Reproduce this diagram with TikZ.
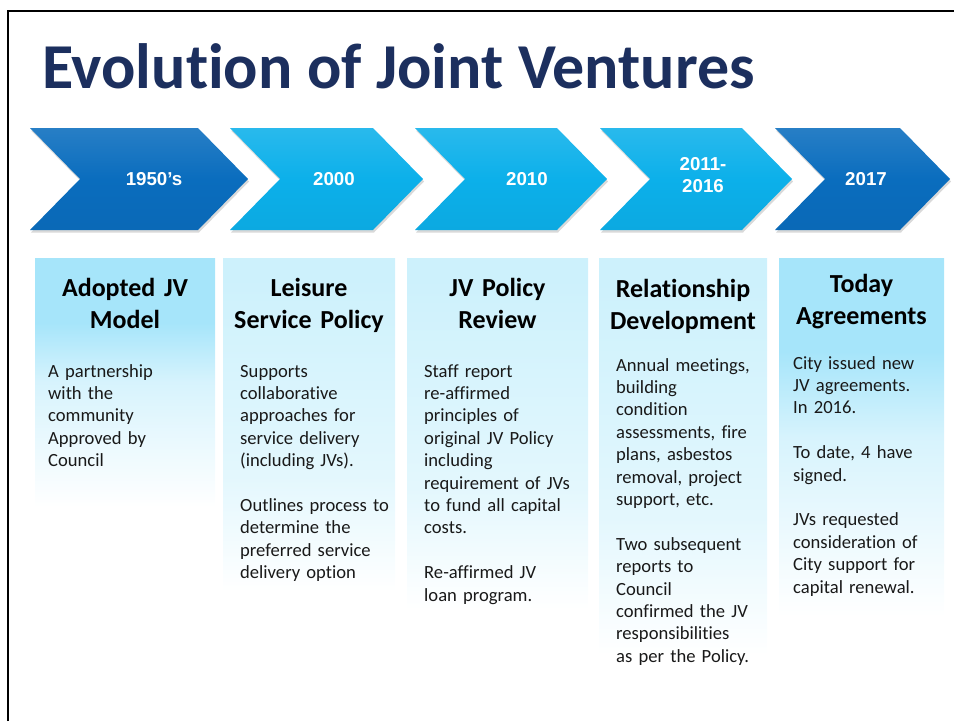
\documentclass[tikz,border=0pt]{standalone}
\usepackage{fontspec}
\setmainfont{Carlito}[Ligatures=NoCommon]
\newfontfamily\yearfont{Liberation Sans}
\usepackage{xcolor}
\usepackage{tikz}
\usetikzlibrary{positioning, shadows}

\definecolor{titleblue}{HTML}{1C2F5E}
\definecolor{chevdeep}{HTML}{0A6DBE}
\definecolor{chevpale}{HTML}{0CB0EA}
\definecolor{carddeep}{HTML}{A6E5FA}
\definecolor{cardpale}{HTML}{CDF1FC}

% card backgrounds fade to white towards the bottom
\pgfdeclareverticalshading{deepfade}{100bp}{color(0bp)=(white); color(25bp)=(white); color(50bp)=(carddeep!45!white); color(62bp)=(carddeep); color(100bp)=(carddeep)}
\pgfdeclareverticalshading{palefade}{100bp}{color(0bp)=(white); color(25bp)=(white); color(42bp)=(cardpale!55!white); color(72bp)=(cardpale); color(100bp)=(cardpale)}

\begin{document}
\begin{tikzpicture}[x=1pt, y=-1pt,
    chev/.style={top color=#1!88!white, bottom color=#1!96!black, middle color=#1,
        drop shadow={shadow xshift=1pt, shadow yshift=-2.5pt, opacity=0.3}},
    yearlabel/.style={font=\yearfont\bfseries\fontsize{18.7}{22.4}\selectfont,
        text=white, align=center, inner sep=0pt},
    card/.style={shading=#1, draw=none, inner sep=0pt, outer sep=0pt, anchor=north west},
    head/.style={font=\bfseries\fontsize{26}{32}\selectfont, text width=180pt,
        align=center, inner sep=0pt, anchor=base},
    body/.style={font=\fontsize{18.6}{22.4}\selectfont, text=black!90, text width=175pt,
        align=left, inner sep=0pt, anchor=base west}]

    \useasboundingbox (0,0) rectangle (954,721);

    % Frame
    \draw[line width=2.6pt] (8,721) -- (8,11) -- (954,11);

    % Title
    \node[font=\bfseries\fontsize{64}{70}\selectfont, text=titleblue, inner sep=0pt,
        anchor=base west] (title) at (42,88) {Evolution of Joint Ventures};

    % Timeline chevrons: back x / tip x / colour
    \foreach \l/\r/\c in {30/248/chevdeep, 230/423/chevpale, 415/607/chevpale,
                          600/792/chevpale, 775/950/chevdeep}
        \path[chev=\c] (\l,128) -- (\r-50,128) -- (\r,179) -- (\r-50,230)
            -- (\l,230) -- (\l+50,179) -- cycle;

    % Years
    \node[yearlabel] (y1) at (154,179) {1950’s};
    \node[yearlabel] (y2) at (334,179) {2000};
    \node[yearlabel] (y3) at (527,179) {2010};
    \node[yearlabel] (y4) at (703,175) {2011-\\2016};
    \node[yearlabel] (y5) at (866,179) {2017};

    % Cards
    \node[card=deepfade, minimum width=180pt, minimum height=249pt] (b1) at (35,258) {};
    \node[card=palefade, minimum width=172pt, minimum height=334pt] (b2) at (223,258) {};
    \node[card=palefade, minimum width=181pt, minimum height=352pt] (b3) at (407,258) {};
    \node[card=palefade, minimum width=168pt, minimum height=397pt] (b4) at (599,258) {};
    \node[card=deepfade, minimum width=165pt, minimum height=359pt] (b5) at (779,258) {};

    % Card headings
    \node[head] (h1) at (125,296) {Adopted JV\\Model};
    \node[head] (h2) at (309,296) {Leisure\\Service Policy};
    \node[head] (h3) at (497.5,296) {JV Policy\\Review};
    \node[head] (h4) at (683,297) {Relationship\\Development};
    \node[head] (h5) at (861.5,292) {Today\\Agreements};

    % Card texts
    \node[body] (t1) at (48,377) {A partnership\\with the\\community\\Approved by\\Council};
    \node[body] (t2) at (240,377) {Supports\\collaborative\\approaches for\\service delivery\\(including JVs).\\[22.4pt]
        Outlines process to\\determine the\\preferred service\\delivery option};
    \node[body] (t3) at (424,377) {Staff report\\re-affirmed\\principles of\\original JV Policy\\including\\requirement of JVs\\to fund all capital\\costs.\\[22.4pt]
        Re-affirmed JV\\loan program.};
    \node[body] (t4) at (616,371) {Annual meetings,\\building\\condition\\assessments, fire\\plans, asbestos\\removal, project\\support, etc.\\[22.4pt]
        Two subsequent\\reports to\\Council\\confirmed the JV\\responsibilities\\as per the Policy.};
    \node[body] (t5) at (793,369) {City issued new\\JV agreements.\\In 2016.\\[22.4pt]
        To date, 4 have\\signed.\\[22.4pt]
        JVs requested\\consideration of\\City support for\\capital renewal.};

\end{tikzpicture}
\end{document}
